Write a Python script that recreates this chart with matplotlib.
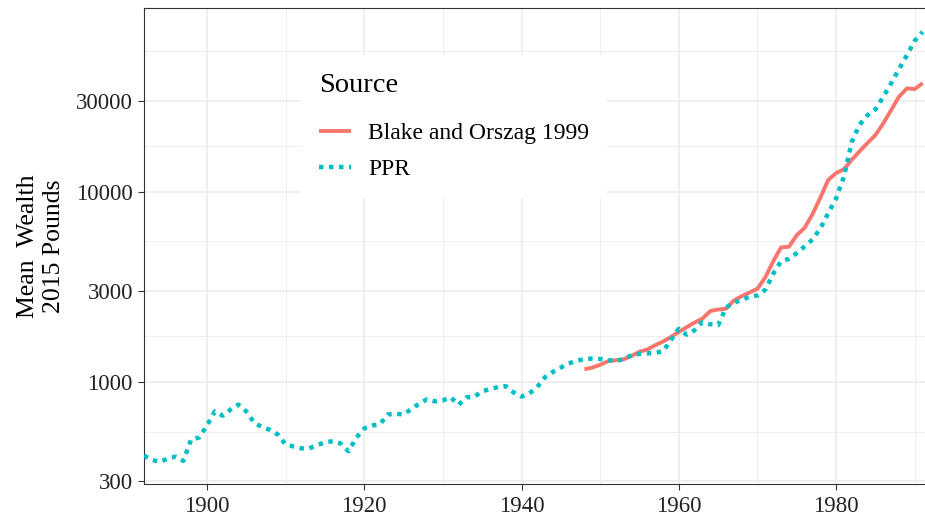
import matplotlib.pyplot as plt
from matplotlib.ticker import FixedLocator, NullFormatter

plt.rcParams['font.family'] = ['Liberation Serif', 'DejaVu Serif']

# PPR series, 1892-1991
ppr_years = list(range(1892, 1992))
ppr_wealth = [
    410, 390, 380, 395, 405, 385, 500, 510, 590, 700,
    665, 715, 760, 700, 610, 580, 560, 530, 470, 458,
    448, 448, 465, 482, 488, 475, 432, 510, 570, 590,
    600, 675, 680, 675, 720, 770, 810, 790, 800, 830,
    758, 830, 835, 895, 915, 940, 950, 880, 838, 870,
    940, 1060, 1130, 1190, 1250, 1290, 1320, 1325, 1320, 1303,
    1287, 1320, 1380, 1405, 1412, 1420, 1450, 1660, 1900, 1770,
    1870, 2063, 2008, 1985, 2460, 2600, 2700, 2800, 2846, 3050,
    3700, 4300, 4430, 4750, 5150, 5600, 6400, 7700, 9200, 12000,
    18300, 22500, 25200, 27000, 31500, 37000, 44000, 52000, 62000, 69000,
]

# Blake and Orszag 1999 series, 1948-1991
bo_years = list(range(1948, 1992))
bo_wealth = [
    1165, 1190, 1230, 1285, 1300, 1315, 1370, 1440, 1480, 1560,
    1630, 1723, 1830, 1940, 2050, 2150, 2357, 2400, 2424, 2680,
    2820, 2950, 3088, 3543, 4300, 5088, 5128, 5900, 6450, 7600,
    9300, 11500, 12500, 13100, 14700, 16300, 18000, 19800, 22800, 26800,
    31500, 34800, 34500, 37100,
]

y_breaks = [300, 1000, 3000, 10000, 30000]
y_minor = [548, 1732, 5477, 17320, 54772]
x_breaks = [1900, 1920, 1940, 1960, 1980]
x_minor = [1910, 1930, 1950, 1970, 1990]

fig = plt.figure(figsize=(9.25, 5.2), dpi=100)
ax = fig.add_axes([144 / 925, 1 - 484 / 520, 1 - 144 / 925, 476 / 520])

ax.plot(bo_years, bo_wealth, color='#F8766D', lw=2.8, solid_capstyle='butt',
        label='Blake and Orszag 1999', zorder=3)
ax.plot(ppr_years, ppr_wealth, color='#00BFC4', lw=3.2, linestyle=(0, (1, 1.25)),
        dash_capstyle='butt', label='PPR', zorder=3)

ax.set_yscale('log')
ax.set_xlim(1892, 1991.3)
ax.set_ylim(291, 92000)

ax.yaxis.set_major_locator(FixedLocator(y_breaks))
ax.yaxis.set_minor_locator(FixedLocator(y_minor))
ax.set_yticklabels([str(v) for v in y_breaks])
ax.yaxis.set_minor_formatter(NullFormatter())
ax.xaxis.set_major_locator(FixedLocator(x_breaks))
ax.xaxis.set_minor_locator(FixedLocator(x_minor))

ax.grid(which='major', color='#EBEBEB', lw=1.1, zorder=0)
ax.grid(which='minor', color='#EBEBEB', lw=0.6, zorder=0)
ax.set_axisbelow(True)

ax.tick_params(which='major', length=4.5, width=0.8, color='#333333',
               labelsize=16.5, labelcolor='#222222')
ax.tick_params(axis='x', which='major', pad=4.5)
ax.tick_params(axis='y', which='major', pad=3.5)
ax.tick_params(which='minor', length=0)

for side in ['left', 'bottom', 'top']:
    ax.spines[side].set_color('#333333')
    ax.spines[side].set_linewidth(0.8)
ax.spines['right'].set_visible(False)

ax.set_ylabel('Mean  Wealth\n2015 Pounds', fontsize=18.5, labelpad=8,
              linespacing=1.25)

leg = ax.legend(title='Source', loc='upper left',
                bbox_to_anchor=(301 / 925, 1 - 55 / 520),
                bbox_transform=fig.transFigure, borderaxespad=0,
                fontsize=17, title_fontsize=20.5, frameon=True,
                fancybox=False, framealpha=1, edgecolor='white',
                handlelength=1.35, handletextpad=0.75, labelspacing=0.62,
                borderpad=0.75, alignment='left')
leg.get_frame().set_linewidth(0)
leg._legend_box.sep = 18

fig.savefig('out.png', dpi=100)
